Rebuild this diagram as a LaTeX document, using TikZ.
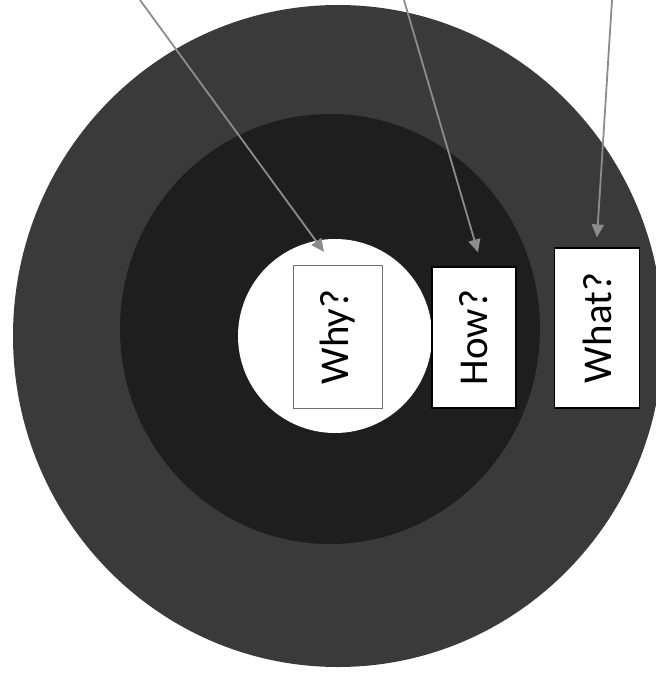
\documentclass[tikz,border=0pt]{standalone}
\usepackage{fontspec}
\setmainfont{Carlito}
\usetikzlibrary{positioning,arrows.meta}

\definecolor{ringout}{RGB}{58,58,58}
\definecolor{ringmid}{RGB}{30,30,30}
\definecolor{arrgray}{RGB}{140,140,140}
\definecolor{boxline}{RGB}{110,110,110}

\tikzset{
  qbox/.style={draw=black, fill=white, line width=1.2pt, rotate=90, inner sep=0pt,
    font=\fontsize{41}{45}\selectfont},
  pointer/.style={draw=arrgray, line width=1.8pt, -{Triangle[length=13pt,width=12pt]}}
}

\begin{document}
\begin{tikzpicture}[x=1pt, y=-1pt]
\useasboundingbox (0,0) rectangle (655,676);

% the three rings
\fill[ringout] (338,336) ellipse [x radius=325, y radius=331];
\fill[ringmid] (330,329) ellipse [x radius=210, y radius=215];
\fill[white] (335,336) circle (97);

% labels
\node[qbox, draw=boxline, minimum width=143, minimum height=89] (why) at (338,337) {Why?};
\node[qbox, minimum width=141, minimum height=84] (how) at (474,337.5) {How?};
\node[qbox, minimum width=160, minimum height=85] (what) at (597,328) {What?};

% arrows from above
\coordinate (srcwhy) at (140,0);
\coordinate (srchow) at (404,0);
\coordinate (srcwhat) at (612,0);
\draw[pointer] (srcwhy) -- ([xshift=-14pt, yshift=13pt]why.east);
\draw[pointer] (srchow) -- ([xshift=4pt, yshift=14pt]how.east);
\draw[pointer] (srcwhat) -- ([yshift=10pt]what.east);
\end{tikzpicture}
\end{document}
